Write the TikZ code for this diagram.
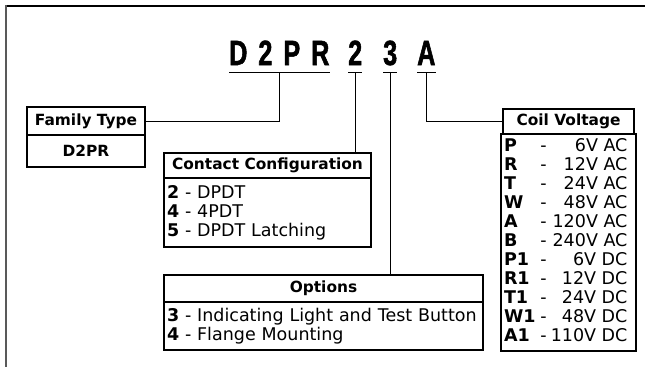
\documentclass[tikz,border=0pt]{standalone}
\usepackage{fontspec}
\setmainfont{DejaVu Sans}
\newfontfamily\codefont[FakeStretch=0.72, FakeBold=1.5]{Liberation Sans Bold}
\usetikzlibrary{positioning}

\begin{document}
\begin{tikzpicture}[x=1pt, y=-1pt]

%% styles
\tikzstyle{headbox}=[draw, line width=1.1pt, outer sep=0pt, inner sep=2pt, anchor=north west, font=\fontsize{15.4}{18}\selectfont\bfseries]

\tikzstyle{bodybox}=[draw, line width=1.1pt, outer sep=0pt, inner xsep=3pt, inner ysep=0pt, align=left, font=\fontsize{17.5}{19}\selectfont]

\tikzstyle{codechar}=[inner xsep=0pt, inner ysep=7pt, anchor=base west, font=\codefont\fontsize{35}{40}\selectfont]

\useasboundingbox (0,0) rectangle (645,367);

%% frame
\draw[line width=1.2pt] (5,6) -- (645,6);
\draw[line width=2pt, black!65] (6,5) -- (6,367);

%% catalogue code
\node(cDPR)[style=codechar] at (229,65) {D\hspace{11pt}2\hspace{11pt}P\hspace{11pt}R};
\node(cCfg)[style=codechar] at (348,65) {2};
\node(cOpt)[style=codechar] at (383,65) {3};
\node(cCoil)[style=codechar] at (417,65) {A};

%% boxes
\node(famhead)[style=headbox, minimum width=118pt, minimum height=28pt] at (27,107) {Family Type};
\node(fambody)[style=bodybox, minimum width=118pt, minimum height=32pt, below=0pt of famhead, align=center, font=\fontsize{15.4}{18}\selectfont\bfseries]
{D2PR};

\node(cfghead)[style=headbox, minimum width=207pt, minimum height=25pt] at (164,153) {Contact Configuration};
\node(cfgbody)[style=bodybox, text width=201pt, minimum height=69pt, below=0pt of cfghead]
{
\textbf{2} - DPDT\\
\textbf{4} - 4PDT\\
\textbf{5} - DPDT Latching
};

\node(opthead)[style=headbox, minimum width=319pt, minimum height=27pt] at (164,275) {Options};
\node(optbody)[style=bodybox, text width=313pt, minimum height=48pt, below=0pt of opthead]
{
\textbf{3} - Indicating Light and Test Button\\
\textbf{4} - Flange Mounting
};

\node(coilhead)[style=headbox, minimum width=131pt, minimum height=25pt] at (503,109) {Coil Voltage};
\node(coilbody)[style=bodybox, minimum width=131pt, minimum height=217pt, below=0pt of coilhead]
{
\begin{tabular}{@{}l@{\hspace{5pt}}c@{\hspace{4pt}}r@{}}
\textbf{P} & - & 6V AC\\
\textbf{R} & - & 12V AC\\
\textbf{T} & - & 24V AC\\
\textbf{W} & - & 48V AC\\
\textbf{A} & - & 120V AC\\
\textbf{B} & - & 240V AC\\
\textbf{P1} & - & 6V DC\\
\textbf{R1} & - & 12V DC\\
\textbf{T1} & - & 24V DC\\
\textbf{W1} & - & 48V DC\\
\textbf{A1} & - & 110V DC
\end{tabular}
};

%% lines
\draw[line width=1.2pt] (cDPR.south west) -- (cDPR.south east);
\draw[line width=1.2pt] (cCfg.south west) -- (cCfg.south east);
\draw[line width=1.2pt] (cOpt.south west) -- (cOpt.south east);
\draw[line width=1.2pt] (cCoil.south west) -- (cCoil.south east);

\draw[line width=1pt] (cDPR.south) |- (famhead.east);
\draw[line width=1pt] (cCfg.south) -- (cCfg.south |- cfghead.north);
\draw[line width=1pt] (cOpt.south) -- (cOpt.south |- opthead.north);
\draw[line width=1pt] (cCoil.south) |- (coilhead.west);

\end{tikzpicture}
\end{document}
